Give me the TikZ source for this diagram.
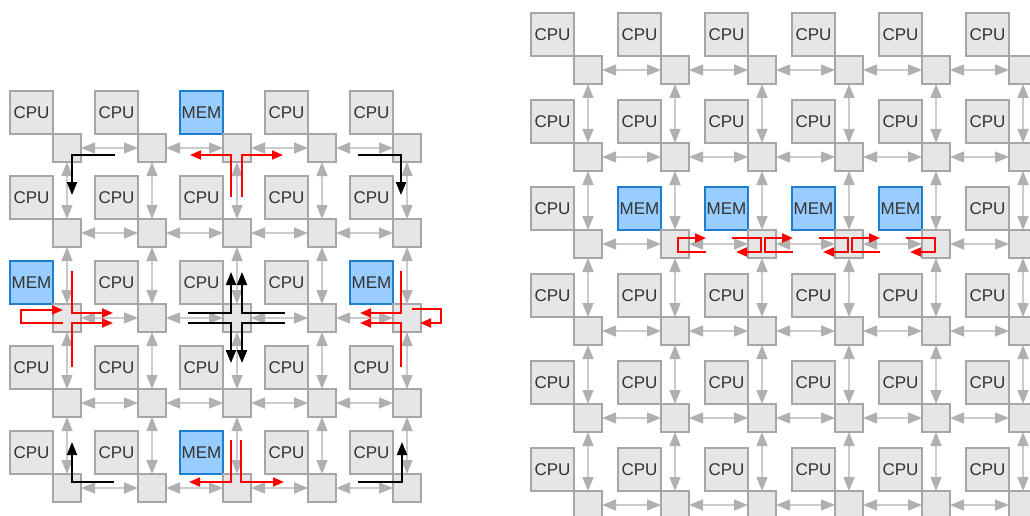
\documentclass[tikz,border=0pt]{standalone}
\usepackage{fontspec}
\setmainfont{Liberation Sans}
\usetikzlibrary{arrows.meta}
\definecolor{boxfill}{HTML}{E6E6E6}
\definecolor{boxline}{HTML}{A6A6A6}
\definecolor{memfill}{HTML}{99CCFF}
\definecolor{memline}{HTML}{1F7FCF}
\definecolor{linkline}{HTML}{CCCCCC}
\definecolor{linkhead}{HTML}{B0B0B0}
\definecolor{txt}{HTML}{333333}
\begin{document}
\begin{tikzpicture}[x=1pt,y=-1pt,
 cpu/.style={draw=boxline,fill=boxfill,line width=1.2pt,minimum size=43pt,inner sep=0pt,outer sep=0pt,anchor=north west,text=txt,font=\fontsize{17}{17}\selectfont},
 mem/.style={cpu,draw=memline,fill=memfill},
 router/.style={draw=boxline,fill=boxfill,line width=1.2pt,minimum size=28pt,inner sep=0pt,outer sep=0pt,anchor=north west},
 link/.style={linkline,line width=1.5pt,{Triangle[length=14pt,width=11pt,color=linkhead]}-{Triangle[length=14pt,width=11pt,color=linkhead]}},
 hop/.style={red,line width=2pt,-{Triangle[length=11pt,width=9pt]}},
 turn/.style={black,line width=2pt,-{Triangle[length=13pt,width=10pt]}}]
\clip (0,0) rectangle (1030,516);
% left mesh
\foreach \i in {0,...,4}
 \foreach \j in {0,...,4} {
  \pgfmathtruncatemacro\ismem{(\i==2 && (\j==0 || \j==4)) || (\j==2 && (\i==0 || \i==4))}
  \ifnum\ismem=1 \def\kind{mem}\def\unittext{MEM}\else\def\kind{cpu}\def\unittext{CPU}\fi
  \node[\kind] (lc-\i-\j) at (10+85*\i, 91+85*\j) {\unittext};
  \node[router] (lr-\i-\j) at (lc-\i-\j.south east) {};
 }
\foreach \i [evaluate=\i as \k using int(\i+1)] in {0,...,3}
 \foreach \j in {0,...,4} {
  \draw[link] (lr-\i-\j) -- (lr-\k-\j);
  \draw[link] (lr-\j-\i) -- (lr-\j-\k);
 }
% right mesh
\foreach \i in {0,...,5}
 \foreach \j in {0,...,5} {
  \pgfmathtruncatemacro\ismem{\j==2 && \i>0 && \i<5}
  \ifnum\ismem=1 \def\kind{mem}\def\unittext{MEM}\else\def\kind{cpu}\def\unittext{CPU}\fi
  \node[\kind] (rc-\i-\j) at (531+87*\i, 13+87*\j) {\unittext};
  \node[router] (rr-\i-\j) at (rc-\i-\j.south east) {};
 }
\foreach \i [evaluate=\i as \k using int(\i+1)] in {0,...,4}
 \foreach \j in {0,...,5} {
  \draw[link] (rr-\i-\j) -- (rr-\k-\j);
  \draw[link] (rr-\j-\i) -- (rr-\j-\k);
 }
% corner turns
\draw[turn] ([shift={(48,7)}]lr-0-0.center) -| ([shift={(5,47)}]lr-0-0.center);
\draw[turn] ([shift={(-49,7)}]lr-4-0.center) -| ([shift={(-6,47)}]lr-4-0.center);
\draw[turn] ([shift={(47,-6)}]lr-0-4.center) -| ([shift={(5,-46)}]lr-0-4.center);
\draw[turn] ([shift={(-49,-6)}]lr-4-4.center) -| ([shift={(-5,-46)}]lr-4-4.center);
% centre crossing
\foreach \sx/\ex/\dy/\ey in {-49/-6/-5/-46, 48/5/-5/-46, -49/-6/5/45, 48/5/5/45}
 \draw[turn] ([shift={(\sx,\dy)}]lr-2-2.center) -| ([shift={(\ex,\ey)}]lr-2-2.center);
% memory traffic, left mesh
\draw[hop] ([shift={(-6,49)}]lr-2-0.center) |- ([shift={(-47,7)}]lr-2-0.center);
\draw[hop] ([shift={(5,49)}]lr-2-0.center) |- ([shift={(46,7)}]lr-2-0.center);
\draw[hop] ([shift={(-6,-48)}]lr-2-4.center) |- ([shift={(-48,-6)}]lr-2-4.center);
\draw[hop] ([shift={(4,-48)}]lr-2-4.center) |- ([shift={(47,-6)}]lr-2-4.center);
\draw[hop] ([shift={(5,-47)}]lr-0-2.center) |- ([shift={(46,-5)}]lr-0-2.center);
\draw[hop] ([shift={(5,49)}]lr-0-2.center) |- ([shift={(46,5)}]lr-0-2.center);
\draw[hop] ([shift={(-4,5)}]lr-0-2.center) -- ++(-42,0) -- ++(0,-13) -- ++(42,0);
\draw[hop] ([shift={(-6,-47)}]lr-4-2.center) |- ([shift={(-47,-5)}]lr-4-2.center);
\draw[hop] ([shift={(-6,49)}]lr-4-2.center) |- ([shift={(-47,5)}]lr-4-2.center);
\draw[hop] ([shift={(5,-9)}]lr-4-2.center) -- ++(29,0) -- ++(0,14) -- ++(-21,0);
% memory traffic, right mesh
\foreach \i in {1,2,3}
 \draw[hop] ([shift={(31,8)}]rr-\i-2.center) -- ++(-28,0) -- ++(0,-14) -- ++(28,0);
\foreach \i in {2,3,4}
 \draw[hop] ([shift={(-30,-6)}]rr-\i-2.center) -- ++(29,0) -- ++(0,14) -- ++(-25,0);
\end{tikzpicture}
\end{document}
